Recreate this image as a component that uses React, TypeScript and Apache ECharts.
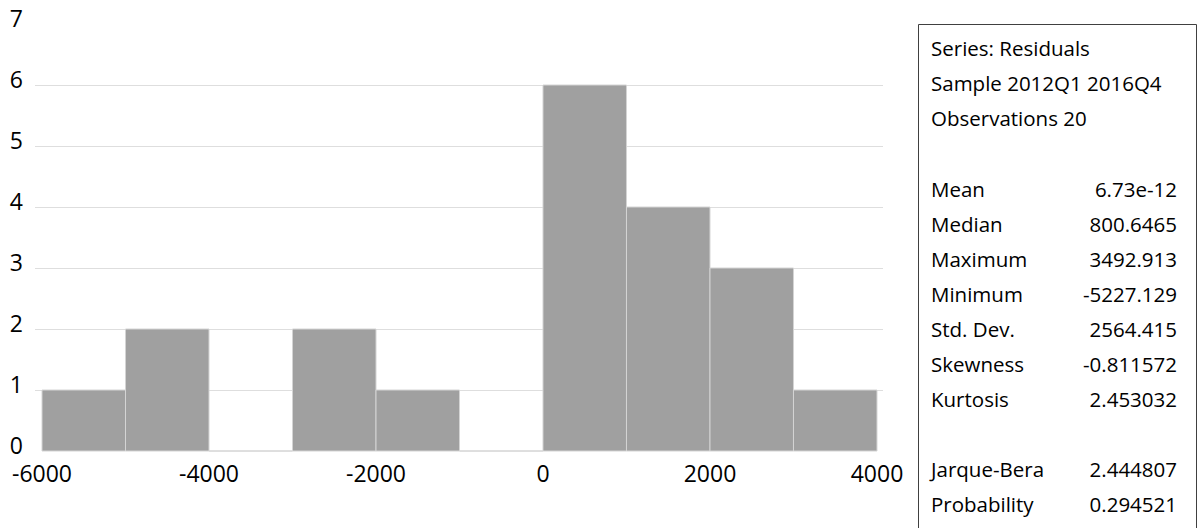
import React, { useEffect, useRef } from "react";
import * as echarts from "echarts";

// Histogram of residuals: bin edges (width 1000) and observation counts
const binStarts = [-6000, -5000, -4000, -3000, -2000, -1000, 0, 1000, 2000, 3000];
const binWidth = 1000;
const binCounts = [1, 2, 0, 2, 1, 0, 6, 4, 3, 1];

const xTickValues = [-6000, -4000, -2000, 0, 2000, 4000];

// Descriptive statistics panel
const headerLines = ["Series: Residuals", "Sample 2012Q1 2016Q4", "Observations 20"];
const statNames = ["Mean", "Median", "Maximum", "Minimum", "Std. Dev.", "Skewness", "Kurtosis", "", "Jarque-Bera", "Probability"];
const statValues = ["6.73e-12", "800.6465", "3492.913", "-5227.129", "2564.415", "-0.811572", "2.453032", "", "2.444807", "0.294521"];

const FONT = "'Open Sans', 'Noto Sans', sans-serif";

export default function App() {
  const ref = useRef<HTMLDivElement>(null);

  useEffect(() => {
    if (!ref.current) return;
    const chart = echarts.init(ref.current, undefined, { renderer: "svg" });

    const histData = binStarts.map((s, i) => [s, s + binWidth, binCounts[i]]);

    const textStyle = { fontFamily: FONT, fontSize: 20.5, fill: "#000" };
    const graphics: any[] = [
      {
        type: "rect",
        shape: { x: 918.5, y: 24.5, width: 278, height: 520 },
        style: { fill: "none", stroke: "#404040", lineWidth: 1 },
      },
    ];
    headerLines.forEach((t, i) => {
      graphics.push({
        type: "text",
        x: 931,
        y: 48 + i * 35,
        style: { ...textStyle, text: t, verticalAlign: "middle", align: "left" },
      });
    });
    statNames.forEach((t, i) => {
      if (!t) return;
      const y = 189 + i * 35;
      graphics.push({
        type: "text",
        x: 931,
        y,
        style: { ...textStyle, text: t, verticalAlign: "middle", align: "left" },
      });
      graphics.push({
        type: "text",
        x: 1177,
        y,
        style: { ...textStyle, text: statValues[i], verticalAlign: "middle", align: "right" },
      });
    });

    chart.setOption({
      animation: false,
      grid: { left: 35, right: 315, top: 24, bottom: 77, containLabel: false },
      xAxis: {
        type: "value",
        min: -6084,
        max: 4072,
        axisLine: { show: false },
        axisTick: { show: false },
        splitLine: { show: false },
        axisLabel: {
          customValues: xTickValues,
          formatter: (v: number) => String(v),
          fontFamily: FONT,
          fontSize: 23,
          color: "#000",
          margin: 10,
          showMinLabel: true,
          showMaxLabel: true,
        },
      },
      yAxis: {
        type: "value",
        min: 0,
        max: 7,
        interval: 1,
        axisLine: { show: false },
        axisTick: { show: false },
        splitLine: {
          show: true,
          showMinLine: false,
          showMaxLine: false,
          lineStyle: { color: "#dedede", width: 1 },
        },
        axisLabel: {
          fontFamily: FONT,
          fontSize: 23,
          color: "#000",
          margin: 12,
          verticalAlign: "bottom",
          lineHeight: 12,
        },
      },
      series: [
        {
          type: "custom",
          data: histData,
          renderItem: (params: any, api: any) => {
            const p0 = api.coord([api.value(0), api.value(2)]);
            const p1 = api.coord([api.value(1), 0]);
            return {
              type: "rect",
              shape: { x: p0[0], y: p0[1], width: p1[0] - p0[0], height: p1[1] - p0[1] },
              style: { fill: "#a0a0a0", stroke: "#d4d4d4", lineWidth: 1 },
            };
          },
        },
      ],
      graphic: graphics,
    });

    return () => chart.dispose();
  }, []);

  return (
    <div
      ref={ref}
      style={{ position: "fixed", left: 0, top: 0, width: 1198, height: 528, background: "#fff" }}
    />
  );
}
